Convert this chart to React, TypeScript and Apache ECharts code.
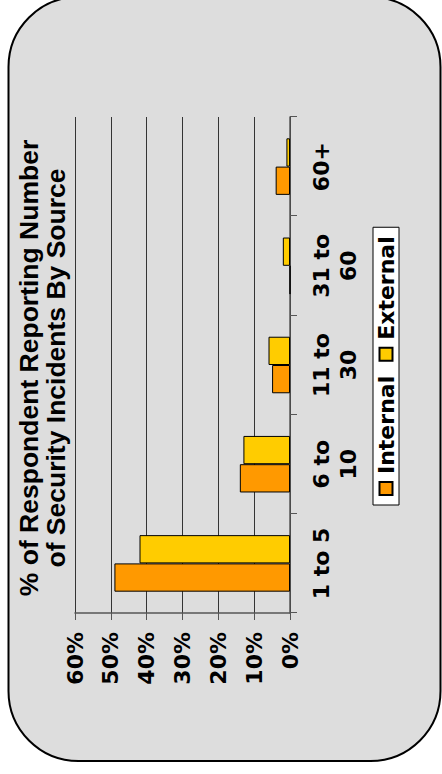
import React, { useEffect, useRef } from "react";
import * as echarts from "echarts";

// Incident-count buckets (line breaks mark where the label wraps)
const categories = ["1 to 5", "6 to\n10", "11 to\n30", "31 to\n60", "60+"];
const seriesNames = ["Internal", "External"];
// Share of respondents, in percent
const internalPct = [49, 14, 5, 0, 4];
const externalPct = [42, 13, 6, 2, 1];
const titleLines = [
  "% of Respondent Reporting Number",
  "of Security Incidents By Source",
];

const labelFont = {
  fontFamily: '"DejaVu Sans", Verdana, sans-serif',
  fontWeight: "bold" as const,
  color: "#000",
};

export default function App() {
  const ref = useRef<HTMLDivElement>(null);

  useEffect(() => {
    const chart = echarts.init(ref.current!, null, { renderer: "svg" });
    chart.setOption({
      animation: false,
      backgroundColor: "transparent",
      graphic: [
        {
          type: "rect",
          z: -10,
          silent: true,
          shape: { x: 13, y: 8.5, width: 764, height: 432, r: 70 },
          style: { fill: "#DDDDDD", stroke: "#000", lineWidth: 2 },
        },
        {
          type: "text",
          z: 10,
          x: 406,
          y: 15,
          style: {
            text: titleLines.join("\n"),
            font: 'bold 26.5px "Liberation Sans", Arial, sans-serif',
            fill: "#000",
            textAlign: "center",
            textVerticalAlign: "top",
            align: "center",
            verticalAlign: "top",
            lineHeight: 27,
          },
        },
      ],
      grid: { left: 161, right: 117, top: 75, bottom: 152 },
      legend: {
        data: seriesNames,
        left: 269,
        top: 373,
        orient: "horizontal",
        icon: "rect",
        itemWidth: 13,
        itemHeight: 13,
        itemGap: 14,
        padding: [2, 9],
        backgroundColor: "#fff",
        borderColor: "#000",
        borderWidth: 1,
        textStyle: { ...labelFont, fontSize: 22, padding: [0, 0, 0, 3] },
      },
      xAxis: {
        type: "category",
        data: categories,
        axisLine: { lineStyle: { color: "#555", width: 1.5 } },
        axisTick: { show: true, length: 7, lineStyle: { color: "#555" } },
        axisLabel: {
          ...labelFont,
          interval: 0,
          margin: 18,
          fontSize: 22,
          lineHeight: 27,
        },
      },
      yAxis: {
        type: "value",
        min: 0,
        max: 60,
        interval: 10,
        axisLine: { show: true, lineStyle: { color: "#555", width: 1.5 } },
        axisTick: { show: true, length: 7, lineStyle: { color: "#555" } },
        axisLabel: {
          ...labelFont,
          margin: 19,
          fontSize: 22,
          formatter: "{value}%",
        },
        splitLine: { lineStyle: { color: "#333", width: 1 } },
      },
      series: [
        {
          name: seriesNames[0],
          type: "bar",
          data: internalPct,
          barGap: "0%",
          barCategoryGap: "43%",
          itemStyle: { color: "#FF9900", borderColor: "#000", borderWidth: 1 },
        },
        {
          name: seriesNames[1],
          type: "bar",
          data: externalPct,
          barGap: "0%",
          barCategoryGap: "43%",
          itemStyle: { color: "#FFCC00", borderColor: "#000", borderWidth: 1 },
        },
      ],
    });
    return () => chart.dispose();
  }, []);

  return (
    <div
      style={{
        position: "absolute",
        left: 0,
        top: 0,
        width: 442,
        height: 774,
        overflow: "hidden",
        background: "#fff",
      }}
    >
      <div
        ref={ref}
        style={{
          position: "absolute",
          left: 0,
          top: 0,
          width: 774,
          height: 442,
          transformOrigin: "0 0",
          transform: "translate(0px, 774px) rotate(-90deg)",
        }}
      />
    </div>
  );
}
